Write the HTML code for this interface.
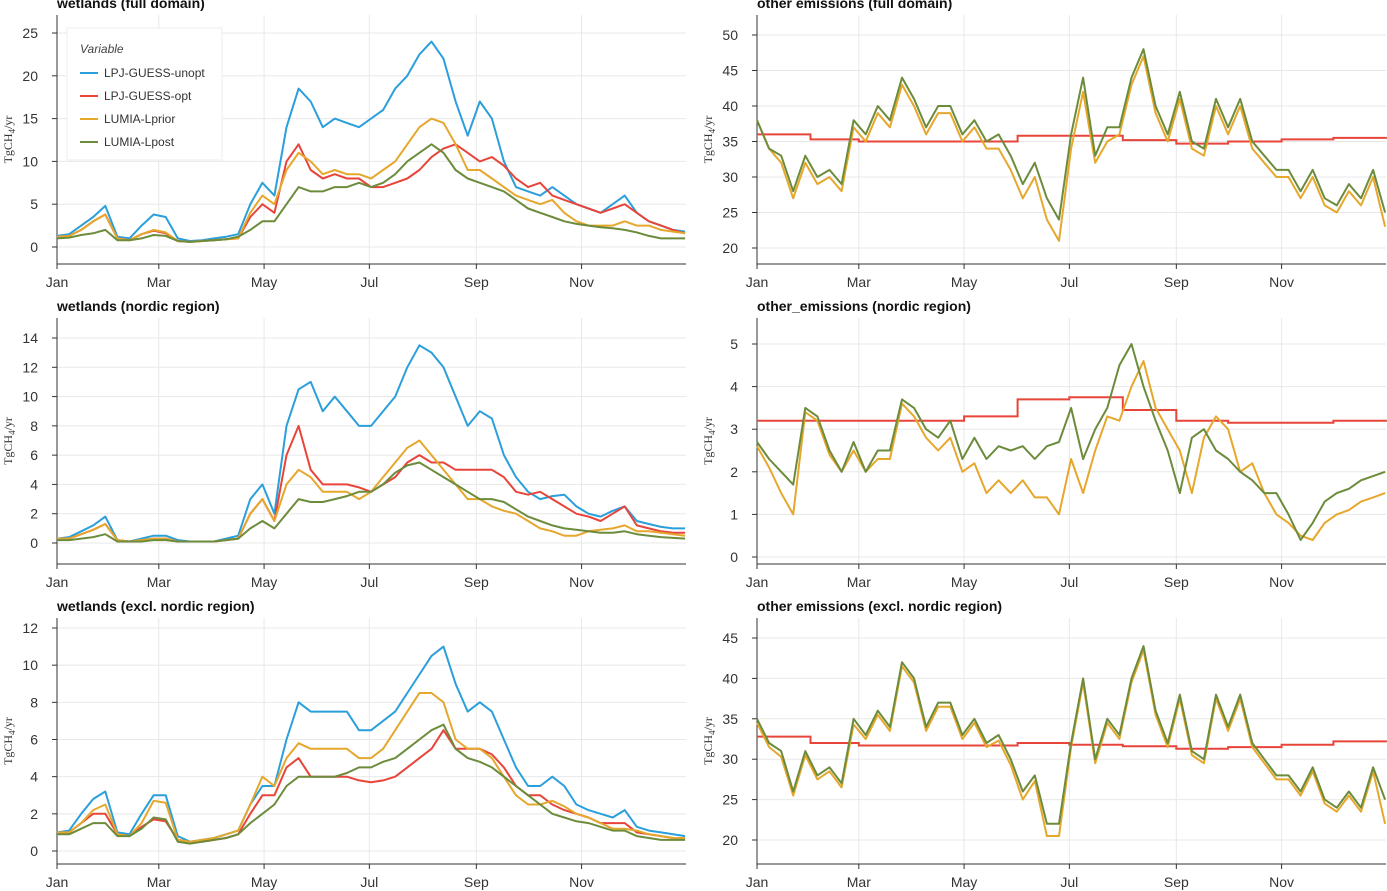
<!DOCTYPE html>
<html><head><meta charset="utf-8">
<style>
body{margin:0;background:#fff;}
svg{display:block;font-family:"Liberation Sans",sans-serif;}
</style></head>
<body>
<svg id="chart" width="1387" height="891" viewBox="0 0 1387 891"></svg>
<script>
const monthLabels=["Jan","Mar","May","Jul","Sep","Nov"];
const monthDays=[0,59,120,181,243,304];
const monthStarts=[0,31,59,90,120,151,181,212,243,273,304,334,365];
// panel 1 left: wetlands full domain
const wFullUnopt=[1.3,1.5,2.5,3.5,4.8,1.2,1.0,2.5,3.8,3.5,1.0,0.7,0.8,1.0,1.2,1.5,5,7.5,6,14,18.5,17,14,15,14.5,14,15,16,18.5,20,22.5,24,22,17,13,17,15,10,7,6.5,6,7,6,5,4.5,4,5,6,4,3,2.5,2,1.8];
const wFullOpt=[1.2,1.3,2,3,3.8,1,0.8,1.5,1.9,1.6,0.7,0.6,0.7,0.8,0.9,1.0,3.5,5,4,10,12,9,8,8.5,8,8,7,7,7.5,8,9,10.5,11.5,12,11,10,10.5,9.5,8,7,7.5,6,5.5,5,4.5,4,4.5,5,4,3,2.5,2,1.6];
const wFullPrior=[1.2,1.3,2,3,3.8,1,0.8,1.5,2,1.7,0.7,0.6,0.7,0.8,0.9,1,4,6,5,9,11,10,8.5,9,8.5,8.5,8,9,10,12,14,15,14.5,12,9,9,8,7,6,5.5,5,5.5,4,3,2.5,2.5,2.5,3,2.5,2.5,2,1.8,1.6];
const wFullPost=[1,1.1,1.4,1.6,2,0.8,0.8,1.0,1.4,1.3,0.7,0.6,0.7,0.8,0.9,1.2,2,3,3,5,7,6.5,6.5,7,7,7.5,7,7.5,8.5,10,11,12,11,9,8,7.5,7,6.5,5.5,4.5,4,3.5,3,2.7,2.5,2.3,2.2,2,1.7,1.3,1.0,1.0,1.0];
// panel 1 right: other full
const oFullPost=[38,34,33,28,33,30,31,29,38,36,40,38,44,41,37,40,40,36,38,35,36,33,29,32,27,24,36,44,33,37,37,44,48,40,36,42,35,34,41,37,41,35,33,31,31,28,31,27,26,29,27,31,25];
const oFullPrior=[38,34,32,27,32,29,30,28,37,35,39,37,43,40,36,39,39,35,37,34,34,31,27,30,24,21,34,42,32,35,36,43,47,39,35,41,34,33,40,36,40,34,32,30,30,27,30,26,25,28,26,30,23];
const oFullOpt=[36,35.3,35,35,35,35.8,35.8,35.2,34.7,35,35.3,35.5];
// panel 2 left: wetlands nordic
const wNorUnopt=[0.3,0.4,0.8,1.2,1.8,0.2,0.1,0.3,0.5,0.5,0.2,0.1,0.1,0.1,0.3,0.5,3,4,2,8,10.5,11,9,10,9,8,8,9,10,12,13.5,13,12,10,8,9,8.5,6,4.5,3.5,3,3.2,3.3,2.5,2,1.8,2.2,2.5,1.5,1.3,1.1,1.0,1.0];
const wNorOpt=[0.3,0.3,0.6,0.9,1.3,0.2,0.1,0.2,0.3,0.3,0.1,0.1,0.1,0.1,0.2,0.3,2,3,1.5,6,8,5,4,4,4,3.8,3.5,4,4.5,5.5,6,5.5,5.5,5,5,5,5,4.5,3.5,3.3,3.5,3,2.5,2,1.8,1.5,2,2.5,1.2,1,0.8,0.7,0.7];
const wNorPrior=[0.3,0.3,0.6,0.9,1.3,0.2,0.1,0.2,0.3,0.3,0.1,0.1,0.1,0.1,0.2,0.3,2,3,1.5,4,5,4.5,3.5,3.5,3.5,3,3.5,4.5,5.5,6.5,7,6,5,4,3,3,2.5,2.2,2,1.5,1,0.8,0.5,0.5,0.8,0.9,1.0,1.2,0.8,0.8,0.7,0.6,0.5];
const wNorPost=[0.2,0.2,0.3,0.4,0.6,0.1,0.1,0.1,0.2,0.2,0.1,0.1,0.1,0.1,0.2,0.3,1,1.5,1,2,3,2.8,2.8,3,3.2,3.5,3.5,4,4.8,5.3,5.5,5,4.5,4,3.5,3,3,2.8,2.3,1.8,1.5,1.2,1,0.9,0.8,0.7,0.7,0.8,0.6,0.5,0.4,0.35,0.3];
// panel 2 right: other nordic
const oNorPost=[2.7,2.3,2,1.7,3.5,3.3,2.5,2,2.7,2,2.5,2.5,3.7,3.5,3,2.8,3.2,2.3,2.8,2.3,2.6,2.5,2.6,2.3,2.6,2.7,3.5,2.3,3,3.5,4.5,5,4,3.2,2.5,1.5,2.8,3,2.5,2.3,2,1.8,1.5,1.5,1,0.4,0.8,1.3,1.5,1.6,1.8,1.9,2.0];
const oNorPrior=[2.6,2.1,1.5,1.0,3.4,3.2,2.4,2,2.5,2,2.3,2.3,3.6,3.3,2.8,2.5,2.8,2,2.2,1.5,1.8,1.5,1.8,1.4,1.4,1.0,2.3,1.5,2.5,3.3,3.2,4,4.6,3.5,3,2.5,1.5,2.8,3.3,3,2,2.2,1.5,1.0,0.8,0.5,0.4,0.8,1.0,1.1,1.3,1.4,1.5];
const oNorOpt=[3.2,3.2,3.2,3.2,3.3,3.7,3.75,3.45,3.2,3.15,3.15,3.2];
// panel 3 left: wetlands excl nordic
const wExUnopt=[1,1.1,2,2.8,3.2,1.0,0.9,2,3,3,0.8,0.5,0.6,0.7,0.9,1.1,2.5,3.5,3.5,6,8,7.5,7.5,7.5,7.5,6.5,6.5,7,7.5,8.5,9.5,10.5,11,9,7.5,8,7.5,6,4.5,3.5,3.5,4,3.5,2.5,2.2,2,1.8,2.2,1.3,1.1,1,0.9,0.8];
const wExOpt=[1,1,1.5,2,2,0.9,0.8,1.3,1.7,1.6,0.6,0.5,0.5,0.6,0.7,0.9,2,3,3,4.5,5,4,4,4,4,3.8,3.7,3.8,4,4.5,5,5.5,6.5,5.5,5.5,5.5,5.2,4.5,3.5,3,3,2.5,2.2,2,1.8,1.5,1.5,1.5,1.0,0.9,0.8,0.7,0.7];
const wExPrior=[1,1,1.5,2.2,2.5,0.9,0.8,1.5,2.7,2.6,0.6,0.5,0.6,0.7,0.9,1.1,2.5,4,3.5,5,5.8,5.5,5.5,5.5,5.5,5,5,5.5,6.5,7.5,8.5,8.5,8,6,5.5,5.5,5,4,3,2.5,2.5,2.7,2.4,2,1.8,1.5,1.2,1.2,1.1,0.9,0.8,0.7,0.7];
const wExPost=[0.9,0.9,1.2,1.5,1.5,0.8,0.8,1.2,1.8,1.7,0.5,0.4,0.5,0.6,0.7,0.9,1.5,2,2.5,3.5,4,4,4,4,4.2,4.5,4.5,4.8,5,5.5,6,6.5,6.8,5.5,5,4.8,4.5,4,3.5,3,2.5,2,1.8,1.6,1.5,1.3,1.1,1.1,0.8,0.7,0.6,0.6,0.6];
// panel 3 right: other excl nordic
const oExPost=[35,32,31,26,31,28,29,27,35,33,36,34,42,40,34,37,37,33,35,32,33,30,26,28,22,22,32,40,30,35,33,40,44,36,32,38,31,30,38,34,38,32,30,28,28,26,29,25,24,26,24,29,25];
const oExPrior=[34.5,31.5,30.3,25.5,30.5,27.5,28.5,26.5,34.3,32.5,35.5,33.5,41.5,39.5,33.5,36.5,36.5,32.5,34.5,31.5,32.3,29.3,25,27.3,20.5,20.5,31.5,39.5,29.5,34.5,32.5,39.5,43.5,35.5,31.5,37.5,30.5,29.5,37.5,33.5,37.5,31.5,29.5,27.5,27.5,25.5,28.5,24.5,23.5,25.5,23.5,28.5,22];
const oExOpt=[32.8,32,31.7,31.7,31.7,32,31.8,31.6,31.3,31.5,31.8,32.2];

const C={unopt:"#2b9fdb",opt:"#e8453a",prior:"#e6a72d",post:"#6c8c3c"};
const svg=document.getElementById('chart');
const NS="http://www.w3.org/2000/svg";
function mk(tag,attrs,parent){const e=document.createElementNS(NS,tag);for(const k in attrs)e.setAttribute(k,attrs[k]);(parent||svg).appendChild(e);return e;}

const panels=[
 {title:"wetlands (full domain)",x0:57,x1:686,top:15,bot:264,ymin:0,ymax:25,y0px:247,y1px:33,ticks:[0,5,10,15,20,25],kind:"w",s:[wFullUnopt,wFullOpt,wFullPrior,wFullPost],legend:true,name:"wetlands-full"},
 {title:"other emissions (full domain)",x0:757,x1:1386,top:15,bot:264,ymin:20,ymax:50,y0px:248,y1px:35,ticks:[20,25,30,35,40,45,50],kind:"o",s:[oFullOpt,oFullPrior,oFullPost],name:"other-full"},
 {title:"wetlands (nordic region)",x0:57,x1:686,top:318,bot:564,ymin:0,ymax:14,y0px:543,y1px:338,ticks:[0,2,4,6,8,10,12,14],kind:"w",s:[wNorUnopt,wNorOpt,wNorPrior,wNorPost],name:"wetlands-nordic"},
 {title:"other_emissions (nordic region)",x0:757,x1:1386,top:318,bot:564,ymin:0,ymax:5,y0px:557,y1px:344,ticks:[0,1,2,3,4,5],kind:"o",s:[oNorOpt,oNorPrior,oNorPost],name:"other-nordic"},
 {title:"wetlands (excl. nordic region)",x0:57,x1:686,top:618,bot:864,ymin:0,ymax:12,y0px:851,y1px:628,ticks:[0,2,4,6,8,10,12],kind:"w",s:[wExUnopt,wExOpt,wExPrior,wExPost],name:"wetlands-excl-nordic"},
 {title:"other emissions (excl. nordic region)",x0:757,x1:1386,top:618,bot:864,ymin:20,ymax:45,y0px:840,y1px:638,ticks:[20,25,30,35,40,45],kind:"o",s:[oExOpt,oExPrior,oExPost],name:"other-excl-nordic"}
];

panels.forEach(p=>{
  const g=mk('g',{});
  
  
  const xs=d=>p.x0+d*(p.x1-p.x0)/364.5;
  const ys=v=>p.y0px+(v-p.ymin)*(p.y1px-p.y0px)/(p.ymax-p.ymin);
  monthDays.forEach(d=>{const l=mk('line',{x1:xs(d),x2:xs(d),y1:p.top,y2:p.bot,stroke:"#e8e8e8","stroke-width":1},g);});
  p.ticks.forEach(t=>{const l=mk('line',{x1:p.x0,x2:p.x1,y1:ys(t),y2:ys(t),stroke:"#e8e8e8","stroke-width":1},g);});
  const ya=mk('line',{x1:p.x0,x2:p.x0,y1:p.top,y2:p.bot,stroke:"#333","stroke-width":1},g);
  
  const xa=mk('line',{x1:p.x0,x2:p.x1,y1:p.bot,y2:p.bot,stroke:"#333","stroke-width":1},g);
  
  p.ticks.forEach(t=>{
    mk('line',{x1:p.x0-5,x2:p.x0,y1:ys(t),y2:ys(t),stroke:"#333"},g);
    const tx=mk('text',{x:p.x0-19,y:ys(t)+5,"text-anchor":"end","font-size":14,fill:"#333"},g);
    tx.textContent=t;
  });
  monthDays.forEach((d,i)=>{
    mk('line',{x1:xs(d),x2:xs(d),y1:p.bot,y2:p.bot+5,stroke:"#333"},g);
    const tx=mk('text',{x:xs(d),y:p.bot+23,"text-anchor":"middle","font-size":14,fill:"#333"},g);
    tx.textContent=monthLabels[i];
  });
  const ti=mk('text',{x:p.x0,y:p.top-7,"font-size":14,"font-weight":"bold",fill:"#111"},g);
  ti.textContent=p.title;
  const yt=mk('text',{x:0,y:0,transform:`translate(${p.x0-45},${(p.top+p.bot)/2}) rotate(-90)`,"text-anchor":"middle","font-size":12,fill:"#333","font-family":"Liberation Serif,serif"},g);
  yt.innerHTML='TgCH<tspan font-size="9" dy="3">4</tspan><tspan dy="-3">/yr</tspan>';
  
  const line=(arr,color,nm)=>{
    const n=arr.length;let d="";
    arr.forEach((v,i)=>{const day=i*364/(n-1);d+=(i?"L":"M")+xs(day).toFixed(1)+","+ys(v).toFixed(1);});
    const pa=mk('path',{d:d,fill:"none",stroke:color,"stroke-width":2,"stroke-linejoin":"round"},g);
    
  };
  const step=(arr,color,nm)=>{
    let d="";
    arr.forEach((v,i)=>{d+=(i?"L":"M")+xs(monthStarts[i]).toFixed(1)+","+ys(v).toFixed(1)+"L"+xs(monthStarts[i+1]).toFixed(1)+","+ys(v).toFixed(1);});
    const pa=mk('path',{d:d,fill:"none",stroke:color,"stroke-width":2},g);
    
  };
  if(p.kind==="w"){
    line(p.s[0],C.unopt,'series-lpj-guess-unopt');
    line(p.s[1],C.opt,'series-lpj-guess-opt');
    line(p.s[2],C.prior,'series-lumia-lprior');
    line(p.s[3],C.post,'series-lumia-lpost');
  }else{
    step(p.s[0],C.opt,'series-opt-step');
    line(p.s[1],C.prior,'series-lumia-lprior');
    line(p.s[2],C.post,'series-lumia-lpost');
  }
  if(p.legend){
    const lg=mk('g',{},g);
    
    mk('rect',{x:67,y:28,width:155,height:132,fill:"#fff","fill-opacity":0.95,stroke:"#eee"},lg);
    const h=mk('text',{x:80,y:53,"font-size":12,"font-style":"italic",fill:"#444"},lg);h.textContent="Variable";
    const names=["LPJ-GUESS-unopt","LPJ-GUESS-opt","LUMIA-Lprior","LUMIA-Lpost"];
    const cols=[C.unopt,C.opt,C.prior,C.post];
    names.forEach((nm,i)=>{
      const e=mk('g',{},lg);
      
      const y=73+i*23;
      mk('line',{x1:80,x2:98,y1:y,y2:y,stroke:cols[i],"stroke-width":2},e);
      const t=mk('text',{x:104,y:y+4,"font-size":12,fill:"#333"},e);t.textContent=nm;
    });
  }
});
</script>
</body></html>
